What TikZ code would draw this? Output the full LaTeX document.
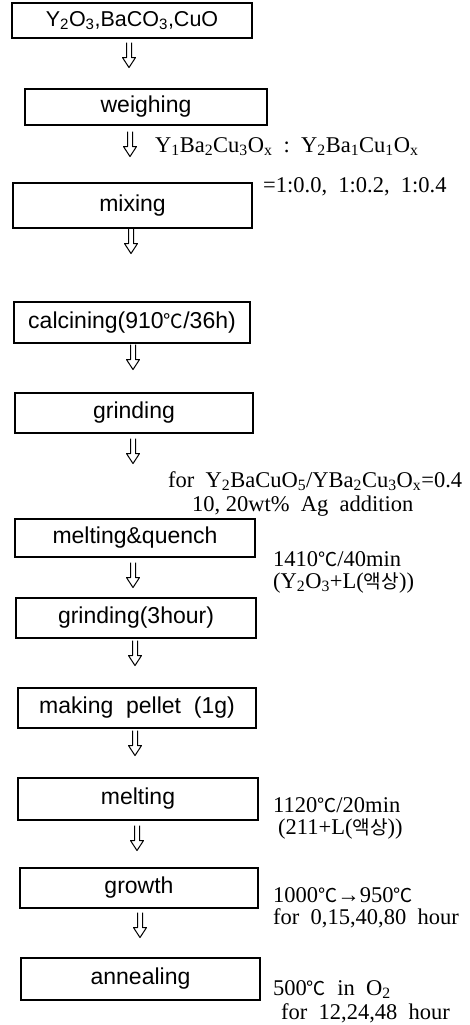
\documentclass[tikz,border=0pt]{standalone}
\usepackage{fontspec}
\setmainfont{Liberation Serif}
\setsansfont{Liberation Sans}
\newfontfamily\krfont[Scale=0.85]{Noto Sans CJK KR}
\newcommand{\dgC}{{\krfont ℃}}
\newcommand{\liq}{{\krfont 액상}}

\begin{document}
\begin{tikzpicture}[
    x=1pt, y=-1pt,
    every node/.style={inner sep=0pt},
    stage/.style={draw, line width=1.1pt, font=\sffamily\fontsize{23}{26}\selectfont,
                  minimum width=240pt, minimum height=40pt},
    cond/.style={anchor=base west, align=left, font=\fontsize{22.5}{22}\selectfont},
    hollowarr/.pic={\draw[line width=1pt, line join=round]
        (-2.5,0) -- (-2.5,15) -- (-6.5,15) -- (0,25) -- (6.5,15) -- (2.5,15) -- (2.5,0);}
]
    \useasboundingbox (0,0) rectangle (470,1025);

    % process steps
    \node[stage, minimum height=35pt, font=\sffamily\fontsize{21.5}{26}\selectfont] (raw) at (132,20.5)
        {Y\textsubscript{2}O\textsubscript{3},BaCO\textsubscript{3},CuO};
    \node[stage, minimum width=242pt, minimum height=36pt] (weigh) at (146,107) {weighing};
    \node[stage, minimum width=239pt, minimum height=45pt] (mix) at (132.5,205.5) {mixing};
    \node[stage, minimum width=236pt, minimum height=41pt] (calc) at (132,322.5)
        {calcining(910\dgC/36h)};
    \node[stage, minimum width=238pt] (grind) at (134,413) {grinding};
    \node[stage, minimum height=38pt] (quench) at (135,538) {melting\&quench};
    \node[stage] (grindh) at (136,618) {grinding(3hour)};
    \node[stage, minimum width=238pt] (pellet) at (137,708) {making\ \ pellet\ \ (1g)};
    \node[stage, minimum height=42pt] (melt) at (138,799) {melting};
    \node[stage, minimum width=238pt] (grow) at (139,888) {growth};
    \node[stage, minimum width=239pt, minimum height=42pt] (anneal) at (140.5,979) {annealing};

    % arrows
    \pic at ([xshift=-3pt, yshift=-4pt]raw.south) {hollowarr};
    \pic at ([xshift=-16pt, yshift=-6pt]weigh.south) {hollowarr};
    \pic at ([xshift=-1.5pt]mix.south) {hollowarr};
    \pic at ([xshift=1pt, yshift=-1pt]calc.south) {hollowarr};
    \pic at ([xshift=-1pt, yshift=-5pt]grind.south) {hollowarr};
    \pic at ([xshift=-2pt, yshift=-5pt]quench.south) {hollowarr};
    \pic at ([xshift=-1pt, yshift=-2pt]grindh.south) {hollowarr};
    \pic at ([xshift=-2pt, yshift=-2pt]pellet.south) {hollowarr};
    \pic at ([xshift=-1pt, yshift=-5pt]melt.south) {hollowarr};
    \pic at ([xshift=1pt, yshift=-4pt]grow.south) {hollowarr};

    % conditions (anchored at the baseline of the last line)
    \node[cond] (ratio) at (155,152)
        {Y\textsubscript{1}Ba\textsubscript{2}Cu\textsubscript{3}O\textsubscript{x}\ \ :\ \ Y\textsubscript{2}Ba\textsubscript{1}Cu\textsubscript{1}O\textsubscript{x}};
    \node[cond] (ratioval) at (263,192) {=1:0.0,\ \ 1:0.2,\ \ 1:0.4};
    \node[cond, font=\fontsize{22.5}{24}\selectfont] (agadd) at (168,511)
        {for\ \ Y\textsubscript{2}BaCuO\textsubscript{5}/YBa\textsubscript{2}Cu\textsubscript{3}O\textsubscript{x}=0.4\\
         \hspace*{24pt}10,\ 20wt\%\ \ Ag\ \ addition};
    \node[cond] (quenchc) at (273,588)
        {1410\dgC/40min\\(Y\textsubscript{2}O\textsubscript{3}+L(\liq))};
    \node[cond] (meltc) at (273,834)
        {1120\dgC/20min\\\hspace*{5pt}(211+L(\liq))};
    \node[cond] (growc) at (273,924)
        {1000\dgC→950\dgC\\for\ \ 0,15,40,80\ \ hour};
    \node[cond, font=\fontsize{22.5}{23.5}\selectfont] (annc) at (273,1019)
        {500\dgC\ \ in\ \ O\textsubscript{2}\\\hspace*{8pt}for\ \ 12,24,48\ \ hour};
\end{tikzpicture}
\end{document}
